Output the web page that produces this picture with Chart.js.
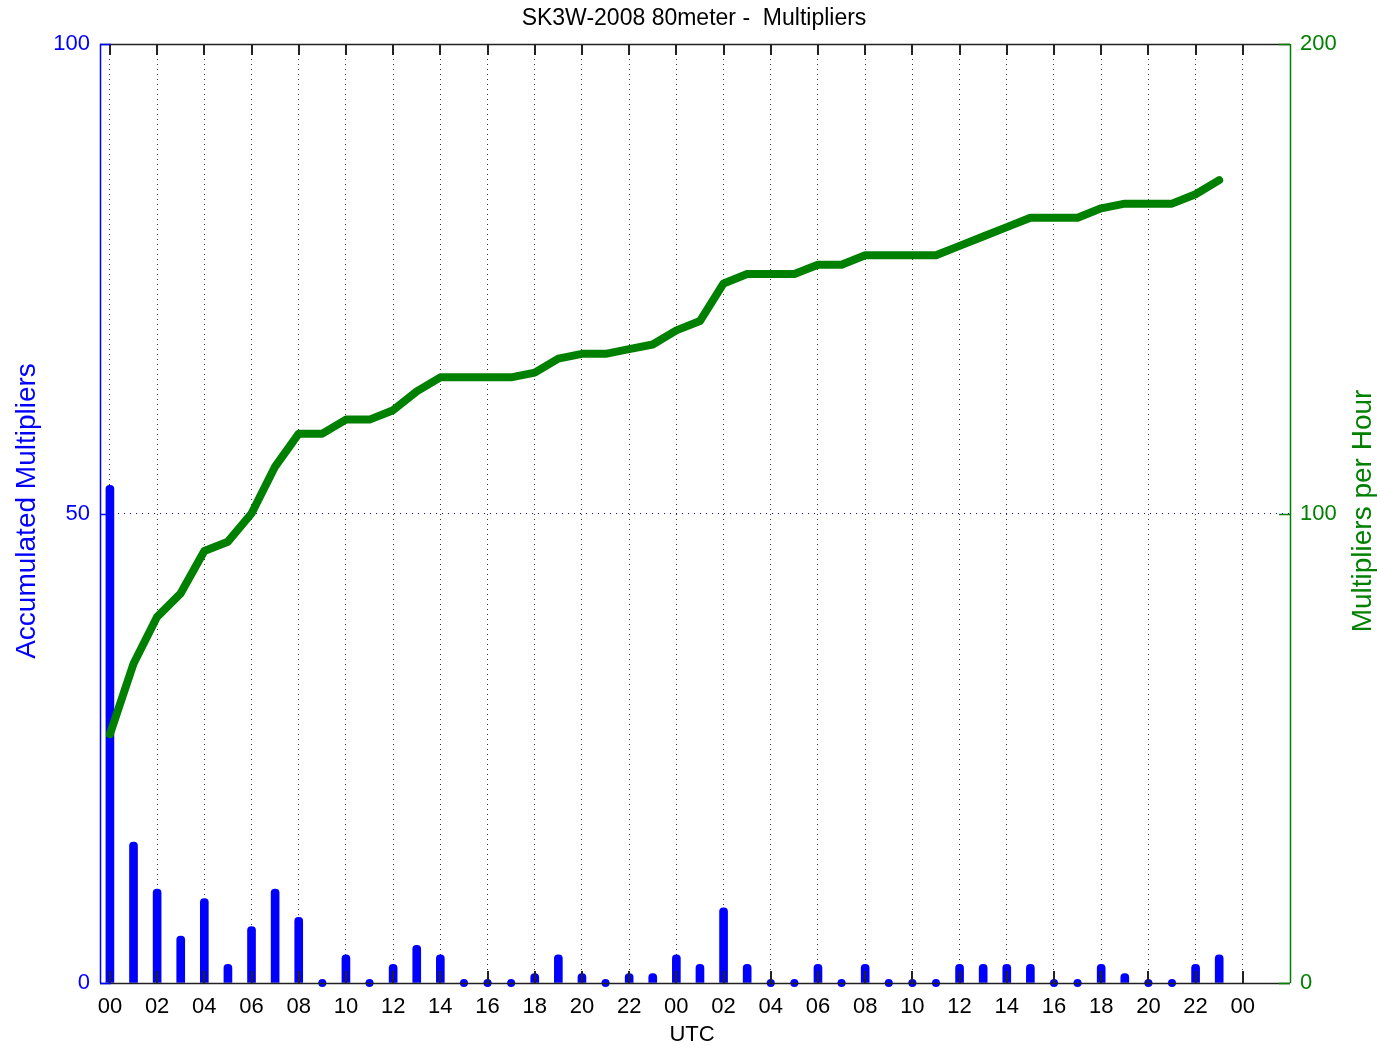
<!DOCTYPE html>
<html>
<head>
<meta charset="utf-8">
<script src="https://cdn.jsdelivr.net/npm/chart.js@4/dist/chart.umd.min.js"></script>
<style>
  html, body { margin: 0; padding: 0; background: #fff; }
  canvas { display: block; }
</style>
</head>
<body>
<canvas id="c" width="1380" height="1048"></canvas>
<script>
// ---- data ----
const hours = [0,1,2,3,4,5,6,7,8,9,10,11,12,13,14,15,16,17,18,19,20,21,22,23,
               24,25,26,27,28,29,30,31,32,33,34,35,36,37,38,39,40,41,42,43,44,45,46,47];
const perHour = [53,15,10,5,9,2,6,10,7,0,3,0,2,4,3,0,0,0,1,3,1,0,1,1,
                 3,2,8,2,0,0,2,0,2,0,0,0,2,2,2,2,0,0,2,1,0,0,2,3];
const accumulated = [53,68,78,83,92,94,100,110,117,117,120,120,122,126,129,129,129,129,130,133,134,134,135,136,
                     139,141,149,151,151,151,153,153,155,155,155,155,157,159,161,163,163,163,165,166,166,166,168,171];
const tickValues = [0,2,4,6,8,10,12,14,16,18,20,22,24,26,28,30,32,34,36,38,40,42,44,46,48];
const tickLabels = ['00','02','04','06','08','10','12','14','16','18','20','22',
                    '00','02','04','06','08','10','12','14','16','18','20','22','00'];
const leftTicks = [0,50,100];
const rightTicks = [0,100,200];
const titleText = 'SK3W-2008 80meter -  Multipliers';
const xTitle = 'UTC';
const leftTitle = 'Accumulated Multipliers';
const rightTitle = 'Multipliers per Hour';

const BLUE = 'rgb(0,0,255)';
const GREEN = 'rgb(0,128,0)';
const FONT = '"Liberation Sans", Arial, Helvetica, sans-serif';

const framePlugin = {
  id: 'frame',
  afterDraw(chart) {
    const ctx = chart.ctx;
    const a = chart.chartArea;
    const xs = chart.scales.x, yl = chart.scales.y, yr = chart.scales.y2;
    ctx.save();
    // frame
    ctx.lineWidth = 1.5;
    ctx.strokeStyle = '#222';
    ctx.beginPath();
    ctx.moveTo(a.left, a.top + 0.5); ctx.lineTo(a.right, a.top + 0.5);
    ctx.moveTo(a.left, a.bottom + 0.5); ctx.lineTo(a.right, a.bottom + 0.5);
    ctx.stroke();
    ctx.strokeStyle = BLUE;
    ctx.beginPath(); ctx.moveTo(a.left + 0.5, a.top); ctx.lineTo(a.left + 0.5, a.bottom); ctx.stroke();
    ctx.strokeStyle = GREEN;
    ctx.beginPath(); ctx.moveTo(a.right + 0.5, a.top); ctx.lineTo(a.right + 0.5, a.bottom); ctx.stroke();
    // x tick marks (inside, top and bottom)
    ctx.strokeStyle = '#222';
    ctx.lineWidth = 2;
    ctx.beginPath();
    tickValues.forEach(v => {
      const px = Math.round(xs.getPixelForValue(v));
      ctx.moveTo(px, a.bottom); ctx.lineTo(px, a.bottom - 12);
      ctx.moveTo(px, a.top); ctx.lineTo(px, a.top + 11);
    });
    ctx.stroke();
    // y tick marks (inside)
    ctx.lineWidth = 1.5;
    ctx.strokeStyle = BLUE;
    ctx.beginPath();
    leftTicks.forEach(v => { const py = Math.round(yl.getPixelForValue(v)) + 0.5; ctx.moveTo(a.left, py); ctx.lineTo(a.left + 11, py); });
    ctx.stroke();
    ctx.strokeStyle = GREEN;
    ctx.beginPath();
    rightTicks.forEach(v => { const py = Math.round(yr.getPixelForValue(v)) + 0.5; ctx.moveTo(a.right, py); ctx.lineTo(a.right - 11, py); });
    ctx.stroke();
    // texts
    ctx.fillStyle = '#000';
    ctx.textAlign = 'center';
    ctx.textBaseline = 'middle';
    ctx.font = '23px ' + FONT;
    ctx.fillText(titleText, 694, 19);
    ctx.font = '22px ' + FONT;
    ctx.fillText(xTitle, 692, 1035);
    ctx.font = '28px ' + FONT;
    ctx.fillStyle = BLUE;
    ctx.save(); ctx.translate(27, 511); ctx.rotate(-Math.PI / 2); ctx.fillText(leftTitle, 0, 0); ctx.restore();
    ctx.fillStyle = GREEN;
    ctx.save(); ctx.translate(1363, 511); ctx.rotate(-Math.PI / 2); ctx.fillText(rightTitle, 0, 0); ctx.restore();
    ctx.restore();
  }
};

new Chart(document.getElementById('c'), {
  data: {
    datasets: [
      {
        type: 'line',
        label: 'accumulated',
        yAxisID: 'y2',
        data: hours.map((h, i) => ({ x: h, y: accumulated[i] })),
        borderColor: GREEN,
        borderWidth: 8,
        pointRadius: 0,
        tension: 0,
        borderCapStyle: 'round',
        borderJoinStyle: 'round',
        order: 0
      },
      {
        type: 'bar',
        label: 'per hour',
        yAxisID: 'y',
        data: hours.map((h, i) => ({ x: h, y: perHour[i] })),
        backgroundColor: BLUE,
        barThickness: 8,
        borderRadius: { topLeft: 4, topRight: 4, bottomLeft: 0, bottomRight: 0 },
        borderSkipped: 'bottom',
        order: 1
      },
      {
        type: 'line',
        label: 'zero markers',
        yAxisID: 'y',
        showLine: false,
        clip: false,
        data: hours.map((h, i) => ({ x: h, y: perHour[i] })),
        pointRadius: c => (c.raw && c.raw.y === 0 ? 4 : 0),
        pointBackgroundColor: BLUE,
        pointBorderWidth: 0,
        order: 2
      }
    ]
  },
  options: {
    responsive: false,
    animation: false,
    layout: { padding: { top: 44, left: 0, right: 0, bottom: 0 } },
    plugins: { legend: { display: false }, tooltip: { enabled: false }, title: { display: false } },
    scales: {
      x: {
        type: 'linear',
        min: -0.42,
        max: 50,
        offset: false,
        afterBuildTicks: s => { s.ticks = tickValues.map(v => ({ value: v })); },
        afterFit: s => { s.height = 65; },
        ticks: {
          autoSkip: false,
          maxRotation: 0,
          padding: 11,
          color: '#000',
          font: { family: FONT, size: 22 },
          callback: (v) => tickLabels[tickValues.indexOf(v)]
        },
        grid: {
          offset: false,
          drawTicks: false,
          color: 'rgba(0,0,0,0.8)',
          lineWidth: 1
        },
        border: { display: false, dash: [1, 4] }
      },
      y: {
        position: 'left',
        min: 0,
        max: 100,
        afterBuildTicks: s => { s.ticks = leftTicks.map(v => ({ value: v })); },
        afterFit: s => { s.width = 100; },
        ticks: {
          padding: 10,
          color: BLUE,
          font: { family: FONT, size: 22 }
        },
        grid: {
          drawTicks: false,
          color: c => (c.tick && c.tick.value === 50 ? BLUE : 'rgba(0,0,0,0)'),
          lineWidth: 1
        },
        border: { display: false, dash: [1, 5] }
      },
      y2: {
        position: 'right',
        min: 0,
        max: 200,
        afterBuildTicks: s => { s.ticks = rightTicks.map(v => ({ value: v })); },
        afterFit: s => { s.width = 90; },
        ticks: {
          padding: 10,
          color: GREEN,
          font: { family: FONT, size: 22 }
        },
        grid: { display: false, drawTicks: false },
        border: { display: false }
      }
    }
  },
  plugins: [framePlugin]
});
</script>
</body>
</html>
